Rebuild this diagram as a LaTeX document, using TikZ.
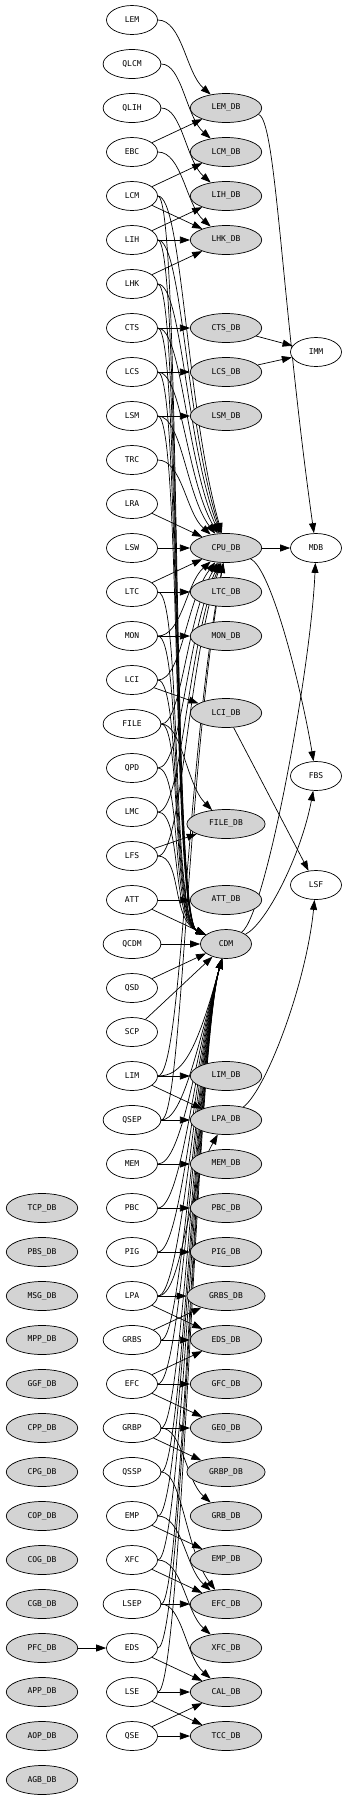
\documentclass[tikz,border=0pt]{standalone}
\usepackage{fontspec}
\setmonofont{DejaVu Sans Mono}
\usetikzlibrary{shapes.geometric, arrows.meta, calc}
\definecolor{dbgray}{HTML}{D3D3D3}
\pgfdeclarelayer{wires}
\pgfsetlayers{wires,main}

\begin{document}
\begin{tikzpicture}[
  x=1pt, y=-1pt,
  >={Triangle[length=10pt,width=7pt]},
  every node/.style={font=\ttfamily\fontsize{8}{9}\selectfont},
  task/.style={
    draw, ellipse, fill=white, line width=0.7pt,
    inner xsep=10.8pt, inner ysep=1pt,
    minimum height=29pt, minimum width=51pt
  },
  dbase/.style={task, fill=dbgray},
  wire/.style={->, line width=0.7pt},
  bus/.style={to path={let \p1=(\tikztostart), \p2=(\tikztotarget) in
      .. controls +(50pt,0pt) and +(-40pt,{0.4*(\y1-(\y2))}) .. (\tikztotarget) \tikztonodes}},
  busl/.style={to path={.. controls +(50pt,0pt) and +(-55pt,25pt) .. (\tikztotarget) \tikztonodes}},
  busu/.style={to path={.. controls +(50pt,0pt) and +(-30pt,-110pt) .. (\tikztotarget) \tikztonodes}}
]
\useasboundingbox (0,0) rectangle (346,1800);

%--- Source column ---
\node[task] (LEM)  at (132,  20) {LEM};
\node[task] (QLCM) at (132,  64) {QLCM};
\node[task] (QLIH) at (132, 108) {QLIH};
\node[task] (EBC)  at (132, 152) {EBC};
\node[task] (LCM)  at (132, 196) {LCM};
\node[task] (LIH)  at (132, 240) {LIH};
\node[task] (LHK)  at (132, 284) {LHK};
\node[task] (CTS)  at (132, 328) {CTS};
\node[task] (LCS)  at (132, 372) {LCS};
\node[task] (LSM)  at (132, 416) {LSM};
\node[task] (TRC)  at (132, 460) {TRC};
\node[task] (LRA)  at (132, 504) {LRA};
\node[task] (LSW)  at (132, 548) {LSW};
\node[task] (LTC)  at (132, 592) {LTC};
\node[task] (MON)  at (132, 636) {MON};
\node[task] (LCI)  at (132, 680) {LCI};
\node[task] (FILE) at (132, 724) {FILE};
\node[task] (QPD)  at (132, 768) {QPD};
\node[task] (LMC)  at (132, 812) {LMC};
\node[task] (LFS)  at (132, 856) {LFS};
\node[task] (ATT)  at (132, 900) {ATT};
\node[task] (QCDM) at (132, 944) {QCDM};
\node[task] (QSD)  at (132, 988) {QSD};
\node[task] (SCP)  at (132,1032) {SCP};
\node[task] (LIM)  at (132,1076) {LIM};
\node[task] (QSEP) at (132,1120) {QSEP};
\node[task] (MEM)  at (132,1164) {MEM};
\node[task] (PBC)  at (132,1208) {PBC};
\node[task] (PIG)  at (132,1252) {PIG};
\node[task] (LPA)  at (132,1296) {LPA};
\node[task] (GRBS) at (132,1340) {GRBS};
\node[task] (EFC)  at (132,1384) {EFC};
\node[task] (GRBP) at (132,1428) {GRBP};
\node[task] (QSSP) at (132,1472) {QSSP};
\node[task] (EMP)  at (132,1516) {EMP};
\node[task] (XFC)  at (132,1560) {XFC};
\node[task] (LSEP) at (132,1604) {LSEP};
\node[task] (EDS)  at (132,1648) {EDS};
\node[task] (LSE)  at (132,1692) {LSE};
\node[task] (QSE)  at (132,1736) {QSE};

%--- Database column ---
\node[dbase] (LEMdb)  at (226, 108) {LEM\_DB};
\node[dbase] (LCMdb)  at (226, 152) {LCM\_DB};
\node[dbase] (LIHdb)  at (226, 196) {LIH\_DB};
\node[dbase] (LHKdb)  at (226, 240) {LHK\_DB};
\node[dbase] (CTSdb)  at (226, 328) {CTS\_DB};
\node[dbase] (LCSdb)  at (226, 372) {LCS\_DB};
\node[dbase] (LSMdb)  at (226, 416) {LSM\_DB};
\node[dbase] (CPUdb)  at (226, 548) {CPU\_DB};
\node[dbase] (LTCdb)  at (226, 592) {LTC\_DB};
\node[dbase] (MONdb)  at (226, 636) {MON\_DB};
\node[dbase] (LCIdb)  at (226, 713) {LCI\_DB};
\node[dbase] (FILEdb) at (226, 824) {FILE\_DB};
\node[dbase] (ATTdb)  at (226, 900) {ATT\_DB};
\node[dbase] (CDM)    at (226, 944) {CDM};
\node[dbase] (LIMdb)  at (226,1076) {LIM\_DB};
\node[dbase] (LPAdb)  at (226,1120) {LPA\_DB};
\node[dbase] (MEMdb)  at (226,1164) {MEM\_DB};
\node[dbase] (PBCdb)  at (226,1208) {PBC\_DB};
\node[dbase] (PIGdb)  at (226,1252) {PIG\_DB};
\node[dbase] (GRBSdb) at (226,1296) {GRBS\_DB};
\node[dbase] (EDSdb)  at (226,1340) {EDS\_DB};
\node[dbase] (GFCdb)  at (226,1384) {GFC\_DB};
\node[dbase] (GEOdb)  at (226,1428) {GEO\_DB};
\node[dbase] (GRBPdb) at (226,1472) {GRBP\_DB};
\node[dbase] (GRBdb)  at (226,1516) {GRB\_DB};
\node[dbase] (EMPdb)  at (226,1560) {EMP\_DB};
\node[dbase] (EFCdb)  at (226,1604) {EFC\_DB};
\node[dbase] (XFCdb)  at (226,1648) {XFC\_DB};
\node[dbase] (CALdb)  at (226,1692) {CAL\_DB};
\node[dbase] (TCCdb)  at (226,1736) {TCC\_DB};

%--- Right column ---
\node[task] (IMM) at (316, 352) {IMM};
\node[task] (MDB) at (316, 548) {MDB};
\node[task] (FBS) at (316, 776) {FBS};
\node[task] (LSF) at (316, 885) {LSF};

%--- Left column ---
\node[dbase] (TCPdb) at (42,1208) {TCP\_DB};
\node[dbase] (PBSdb) at (42,1252) {PBS\_DB};
\node[dbase] (MSGdb) at (42,1296) {MSG\_DB};
\node[dbase] (MPPdb) at (42,1340) {MPP\_DB};
\node[dbase] (GGFdb) at (42,1384) {GGF\_DB};
\node[dbase] (CPPdb) at (42,1428) {CPP\_DB};
\node[dbase] (CPGdb) at (42,1472) {CPG\_DB};
\node[dbase] (COPdb) at (42,1516) {COP\_DB};
\node[dbase] (COGdb) at (42,1560) {COG\_DB};
\node[dbase] (CGBdb) at (42,1604) {CGB\_DB};
\node[dbase] (PFCdb) at (42,1648) {PFC\_DB};
\node[dbase] (APPdb) at (42,1692) {APP\_DB};
\node[dbase] (AOPdb) at (42,1736) {AOP\_DB};
\node[dbase] (AGBdb) at (42,1780) {AGB\_DB};

\begin{pgfonlayer}{wires}
%--- Short links to the databases ---
\path[wire]
  (LEM)  edge[bus] (LEMdb)
  (QLCM) edge[bus] (LCMdb)
  (QLIH) edge[bus] (LIHdb)
  (EBC)  edge (LEMdb)
  (EBC)  edge[bus] (LHKdb)
  (LCM)  edge (LCMdb)
  (LCM)  edge (LHKdb)
  (LIH)  edge (LIHdb)
  (LIH)  edge (LHKdb)
  (LHK)  edge (LHKdb)
  (CTS)  edge (CTSdb)
  (LCS)  edge (LCSdb)
  (LSM)  edge (LSMdb)
  (TRC)  edge[bus] (CPUdb)
  (LRA)  edge (CPUdb)
  (LSW)  edge (CPUdb)
  (LTC)  edge (CPUdb)
  (LTC)  edge (LTCdb)
  (MON)  edge (MONdb)
  (LCI)  edge (LCIdb)
  (FILE) edge[bus] (FILEdb)
  (LFS)  edge (FILEdb)
  (ATT)  edge (ATTdb)
  (ATT)  edge (CDM)
  (QCDM) edge (CDM)
  (QSD)  edge (CDM)
  (SCP)  edge (CDM)
  (LIM)  edge (LIMdb)
  (LIM)  edge (LPAdb)
  (QSEP) edge (LPAdb)
  (MEM)  edge (MEMdb)
  (PBC)  edge (PBCdb)
  (PIG)  edge (PIGdb)
  (LPA)  edge[bus] (LPAdb)
  (LPA)  edge (GRBSdb)
  (LPA)  edge (EDSdb)
  (GRBS) edge (GRBSdb)
  (GRBS) edge (EDSdb)
  (EFC)  edge (EDSdb)
  (EFC)  edge (GFCdb)
  (EFC)  edge (GEOdb)
  (GRBP) edge (GEOdb)
  (GRBP) edge (GRBPdb)
  (GRBP) edge[bus] (GRBdb)
  (QSSP) edge[bus] (EFCdb)
  (EMP)  edge (EMPdb)
  (EMP)  edge[bus] (EFCdb)
  (XFC)  edge (EFCdb)
  (XFC)  edge[bus] (XFCdb)
  (LSEP) edge (EFCdb)
  (LSEP) edge[bus] (CALdb)
  (EDS)  edge (CALdb)
  (LSE)  edge (CALdb)
  (LSE)  edge (TCCdb)
  (QSE)  edge (CALdb)
  (QSE)  edge (TCCdb)
  (PFCdb) edge (EDS);

%--- Bundle into CPU_DB ---
\path[wire]
  (LCM)  edge[bus] (CPUdb)
  (LIH)  edge[bus] (CPUdb)
  (LHK)  edge[bus] (CPUdb)
  (CTS)  edge[bus] (CPUdb)
  (LCS)  edge[bus] (CPUdb)
  (LSM)  edge[bus] (CPUdb)
  (MON)  edge[bus] (CPUdb)
  (LCI)  edge[bus] (CPUdb)
  (FILE) edge[bus] (CPUdb)
  (QPD)  edge[bus] (CPUdb)
  (LMC)  edge[bus] (CPUdb)
  (LFS)  edge[bus] (CPUdb)
  (LIM)  edge[bus] (CPUdb)
  (QSEP) edge[bus] (CPUdb);

%--- Bundle into CDM ---
\path[wire]
  (LCM)  edge[busl] (CDM)
  (LIH)  edge[busl] (CDM)
  (LHK)  edge[busl] (CDM)
  (CTS)  edge[busl] (CDM)
  (LCS)  edge[busl] (CDM)
  (LSM)  edge[busl] (CDM)
  (LTC)  edge[busl] (CDM)
  (MON)  edge[busl] (CDM)
  (LCI)  edge[busl] (CDM)
  (FILE) edge[busl] (CDM)
  (QPD)  edge[busl] (CDM)
  (LMC)  edge[busl] (CDM)
  (LFS)  edge[busl] (CDM)
  (LIM)  edge[busu] (CDM)
  (QSEP) edge[busu] (CDM)
  (MEM)  edge[busu] (CDM)
  (PBC)  edge[busu] (CDM)
  (PIG)  edge[busu] (CDM)
  (LPA)  edge[busu] (CDM)
  (GRBS) edge[busu] (CDM)
  (EFC)  edge[busu] (CDM)
  (GRBP) edge[busu] (CDM)
  (QSSP) edge[busu] (CDM)
  (EMP)  edge[busu] (CDM)
  (XFC)  edge[busu] (CDM)
  (LSEP) edge[busu] (CDM)
  (EDS)  edge[busu] (CDM)
  (LSE)  edge[busu] (CDM);

%--- Right column links ---
\path[wire]
  (CTSdb) edge (IMM)
  (LCSdb) edge (IMM)
  (CPUdb) edge (MDB)
  (LCIdb) edge (LSF);
\draw[wire] (LEMdb) .. controls +(50pt,-10pt) and +(-35pt,250pt) .. (MDB);
\draw[wire] (CPUdb) .. controls +(45pt,-20pt) and +(-15pt,90pt) .. (FBS);
\draw[wire] (CDM) .. controls +(40pt,30pt) and +(-5pt,-120pt) .. (MDB);
\draw[wire] (CDM) .. controls +(40pt,20pt) and +(-15pt,-80pt) .. (FBS);
\draw[wire] (LPAdb) .. controls +(40pt,30pt) and +(-10pt,-100pt) .. (LSF);
\end{pgfonlayer}

\end{tikzpicture}
\end{document}
